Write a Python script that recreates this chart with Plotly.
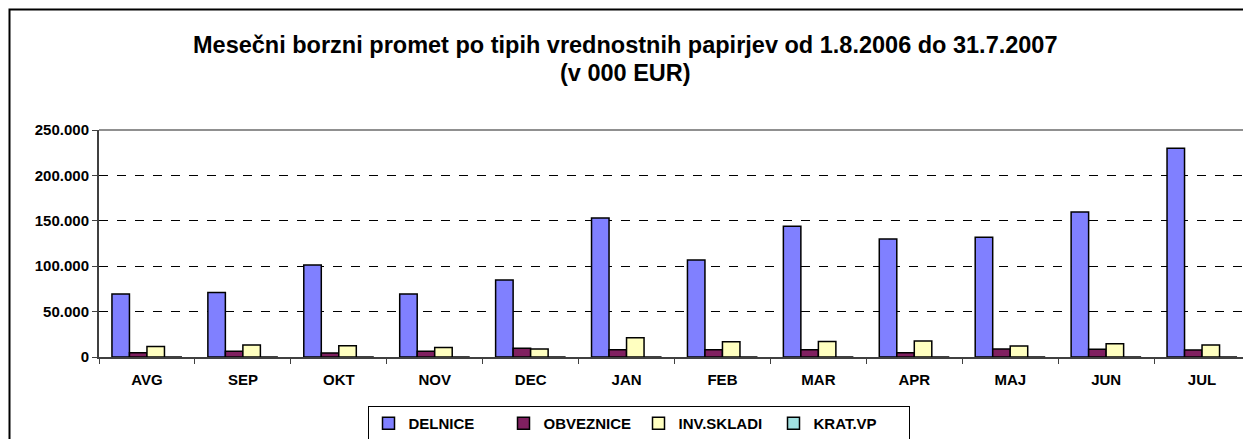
import plotly.graph_objects as go

months = ["AVG", "SEP", "OKT", "NOV", "DEC", "JAN", "FEB", "MAR", "APR", "MAJ", "JUN", "JUL"]
delnice = [69400, 70900, 101300, 69400, 84800, 153100, 106800, 143900, 130000, 131800, 159700, 229800]
obveznice = [4800, 6200, 4400, 6200, 9500, 8100, 8100, 8100, 4800, 8800, 8400, 7700]
inv_skladi = [11700, 13200, 12500, 10600, 8800, 21300, 16900, 17200, 17600, 12100, 14700, 13200]
krat_vp = [0, 0, 0, 0, 0, 0, 0, 0, 0, 0, 0, 0]

title_lines = [
    "Mesečni borzni promet po tipih vrednostnih papirjev od 1.8.2006 do 31.7.2007",
    "(v 000 EUR)",
]

series = [
    ("DELNICE", delnice, "#8080FF"),
    ("OBVEZNICE", obveznice, "#802060"),
    ("INV.SKLADI", inv_skladi, "#FFFFC0"),
    ("KRAT.VP", krat_vp, "#A0E0E0"),
]

FONT = "Liberation Sans, Arial, sans-serif"

fig = go.Figure()
for name, vals, col in series:
    fig.add_trace(go.Bar(
        x=months, y=vals, name=name,
        marker=dict(color=col, line=dict(color="black", width=1.5)),
    ))

# page body has an 8px margin; figure placed accordingly
OFF = 8
W, H = 1251 - OFF, 439 - OFF
L, R, T, B = 99 - OFF, 1, 130 - OFF, 439 - 357
pw = W - L - R
ph = H - T - B


def px_x(sx):
    return (sx - OFF - L) / pw


def px_y(sy):
    return (H - B - (sy - OFF)) / ph


fig.update_layout(
    width=W, height=H,
    margin=dict(l=L, r=R, t=T, b=B, autoexpand=False),
    paper_bgcolor="white", plot_bgcolor="white",
    barmode="group", bargap=0.27, bargroupgap=0,
    separators=",.",
    font=dict(family=FONT, color="black"),
    legend=dict(
        orientation="h",
        xref="container", yref="container",
        x=(638.5 - OFF) / W, xanchor="center",
        y=1 - (406 - OFF) / H, yanchor="top",
        bordercolor="black", borderwidth=1,
        font=dict(family=FONT, size=15, color="black", weight="bold"),
        entrywidth=90, entrywidthmode="pixels",
        traceorder="normal",
    ),
    showlegend=True,
)

for txt, cy in zip(title_lines, [45, 73]):
    fig.add_annotation(
        text=f"<b>{txt}</b>", showarrow=False,
        xref="paper", yref="paper",
        x=px_x(625), y=px_y(cy), xanchor="center", yanchor="middle",
        font=dict(family=FONT, size=23.5, color="black"),
    )

fig.update_xaxes(
    type="category",
    showline=True, linecolor="#404040", linewidth=2,
    ticks="outside", tickson="boundaries", ticklen=5, tickcolor="#404040",
    ticklabelstandoff=8,
    tickfont=dict(family=FONT, size=15, color="black", weight="bold"),
    showgrid=False, automargin=False,
)
fig.update_yaxes(
    range=[0, 250000], dtick=50000, tickformat=",d",
    showline=True, linecolor="#404040", linewidth=2,
    ticks="outside", ticklen=5, tickcolor="#404040",
    showgrid=True, gridcolor="black", griddash="dash", gridwidth=1,
    zeroline=False, automargin=False,
    tickfont=dict(family=FONT, size=15, color="black", weight="bold"),
)

# plot-area border (top and right) in grey
fig.add_shape(type="line", xref="paper", yref="paper", x0=0, x1=1, y0=1, y1=1,
              line=dict(color="#909090", width=2))
fig.add_shape(type="line", xref="paper", yref="paper", x0=1, x1=1, y0=0, y1=1,
              line=dict(color="#909090", width=1))

# outer chart frame
fig.add_shape(type="rect", xref="paper", yref="paper",
              x0=px_x(9.5), x1=px_x(1280),
              y0=px_y(470), y1=px_y(9.5),
              line=dict(color="black", width=2), layer="below")

fig.write_html("out.html")
